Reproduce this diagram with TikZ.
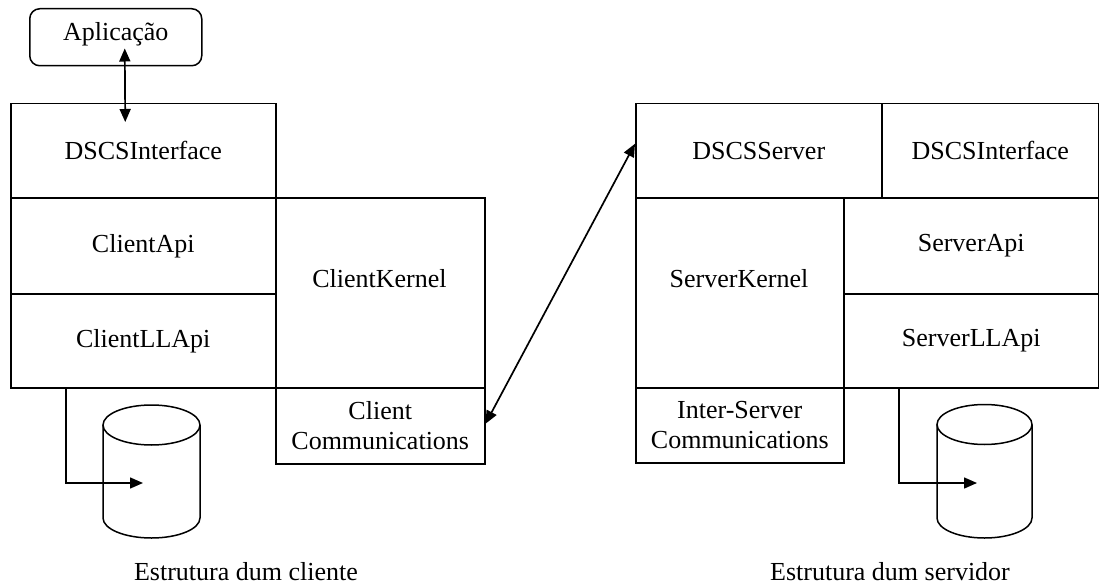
\documentclass[tikz,border=0pt]{standalone}
\usepackage{fontspec}
\setmainfont{Liberation Serif}
\usetikzlibrary{arrows.meta,calc}

\tikzset{
  layer/.style={draw, line width=1.5pt, inner sep=0pt, anchor=north west,
                font=\fontsize{26}{30}\selectfont, align=center},
  caption/.style={inner sep=0pt, font=\fontsize{26}{30}\selectfont},
  appbox/.style={draw, line width=1.5pt, rounded corners=10pt, inner sep=0pt,
                 anchor=north west, minimum width=172pt, minimum height=57pt,
                 font=\fontsize{26}{30}\selectfont},
  link/.style={line width=1.7pt, {Triangle[length=13pt,width=11pt]}-{Triangle[length=13pt,width=11pt]}},
  feed/.style={line width=1.5pt, -{Triangle[length=13pt,width=11pt]}},
  disk/.style={line width=1.5pt}
}

\begin{document}
\begin{tikzpicture}[x=1pt,y=-1pt]
\useasboundingbox (0,0) rectangle (1099,588);

% ---- client side ----
\node[appbox] (app) at (29,8) {};
\node[caption] at ($(app.center)+(0,-3)$) {Aplicação};

\node[layer, minimum width=265pt, minimum height=94pt] (cdi) at (10,103) {DSCSInterface};
\node[layer, minimum width=265pt, minimum height=96pt] (capi) at (10,197) {ClientApi};
\node[layer, minimum width=265pt, minimum height=94pt] (cll) at (10,293) {ClientLLApi};
\node[layer, minimum width=209pt, minimum height=190pt] (ck) at (275,197) {};
\node[caption] at (379.5,279) {ClientKernel};
\node[layer, minimum width=209pt, minimum height=76pt] (cc) at (275,387) {Client\\Communications};

% client storage
\draw[disk] (151.5,425) ellipse [x radius=48.5pt, y radius=20pt];
\draw[disk] (103,425) -- (103,518) arc [start angle=180, end angle=360, x radius=48.5pt, y radius=20pt] -- (200,425);
\coordinate (cdisk) at (143,483);

\draw[link] ([shift={(9,-18)}]app.south) -- ([shift={(-18,19)}]cdi.north);
\draw[feed] ([xshift=56pt]cll.south west) |- (cdisk);

% ---- server side ----
\node[layer, minimum width=246pt, minimum height=94pt] (srv) at (635,103) {DSCSServer};
\node[layer, minimum width=217pt, minimum height=94pt] (sdi) at (881,103) {DSCSInterface};
\node[layer, minimum width=208pt, minimum height=190pt] (sk) at (635,197) {};
\node[caption] at (739,279) {ServerKernel};
\node[layer, minimum width=255pt, minimum height=96pt] (sapi) at (843,197) {ServerApi};
\node[layer, minimum width=255pt, minimum height=94pt] (sll) at (843,293) {ServerLLApi};
\node[layer, minimum width=208pt, minimum height=75pt] (isc) at (635,387) {Inter-Server\\Communications};

% server storage
\draw[disk] (984.5,424.5) ellipse [x radius=47.5pt, y radius=20pt];
\draw[disk] (937,424.5) -- (937,518) arc [start angle=180, end angle=360, x radius=47.5pt, y radius=20pt] -- (1032,424.5);
\coordinate (sdisk) at (977,483);

\draw[feed] ([xshift=56pt]sll.south west) |- (sdisk);

% client <-> server
\draw[link] ([yshift=2pt]cc.east) -- ([yshift=7pt]srv.west);

% captions
\node[caption] (capc) at (246,572) {Estrutura dum cliente};
\node[caption] (caps) at (890,572) {Estrutura dum servidor};
\end{tikzpicture}
\end{document}
